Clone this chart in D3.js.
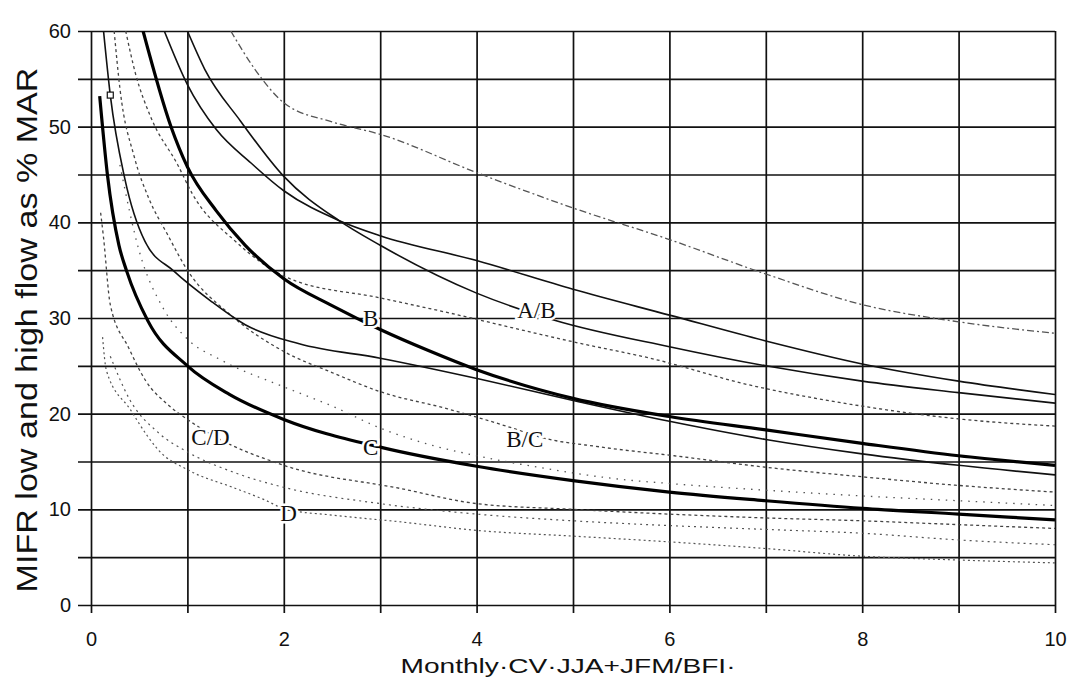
<!DOCTYPE html>
<html>
<head>
<meta charset="utf-8">
<script src="https://cdn.jsdelivr.net/npm/d3@7"></script>
<style>
  body { margin:0; background:#fff; }
  svg  { display:block; }
</style>
</head>
<body>
<svg id="chart" width="1067" height="685"></svg>
<script>
// ---- data ----
const xTicks = [0, 2, 4, 6, 8, 10];
const yTicks = [0, 10, 20, 30, 40, 50, 60];
const xGrid  = [0, 1, 2, 3, 4, 5, 6, 7, 8, 9, 10];
const yGrid  = [0, 5, 10, 15, 20, 25, 30, 35, 40, 45, 50, 55, 60];

// solid curves
const solidQ = [[0.76,60],[1,54.4],[1.3,49.7],[1.66,46.2],[2,43.3],[2.57,40.2],[3,38.6],[4,36],[5,33],[6,30.3],[7,27.6],[8,25.2],[9,23.4],[10,22]];
const solidAB = [[1.0,60],[1.18,56],[1.55,50.6],[2,44.8],[2.57,40.2],[3,37.6],[4,32.6],[4.8,29.8],[6,27],[7,25],[8,23.4],[9,22.2],[10,21.1]];
const thickB = [[0.54,60],[0.83,50],[1,45.8],[1.3,41.2],[1.6,37.6],[2,34.1],[2.5,31.3],[3,28.8],[3.5,26.6],[4,24.6],[5,21.6],[6,19.7],[7,18.3],[8,16.9],[9,15.6],[10,14.6]];
const solidBC = [[0.13,60],[0.2,53.3],[0.35,44.6],[0.56,38],[0.86,34.9],[1.24,31.8],[1.6,29.3],[2.16,27.3],[3,25.8],[4.04,23.6],[5.08,21.2],[6,19.2],[7,17.3],[8,15.8],[9,14.6],[10,13.6]];
const thickC = [[0.09,53.2],[0.17,45],[0.29,37.6],[0.37,34.9],[0.59,29.7],[1,25],[1.44,22],[2,19.4],[3,16.5],[4,14.5],[5,13],[6,11.8],[7,10.9],[8,10.1],[9,9.5],[10,8.9]];

// dotted curves
const dotA  = [[1.45,60],[1.7,56],[2,52.5],[2.5,50.5],[3,49.2],[4,45.2],[5,41.5],[6,38.2],[7,34.6],[8,31.4],[9,29.6],[10,28.4]];
const dotAB = [[0.36,60],[0.46,55.6],[0.62,51],[0.9,46],[1.05,43],[1.5,38],[2.04,34.2],[3,32.1],[3.73,30.5],[4.53,28.6],[5.05,27.4],[5.8,25.8],[6.83,23],[7.87,21],[9.05,19.4],[10,18.7]];
const dotBC = [[0.24,60],[0.3,54],[0.45,46.8],[0.6,42.5],[0.79,38.8],[1,35],[1.45,30.3],[2,26.5],[2.5,24.3],[3,22.3],[3.7,20.5],[4.4,18.4],[4.64,17.6],[5.3,16.5],[6.05,15.6],[7,14.4],[8,13.4],[9,12.5],[10,11.8]];
const dotC  = [[0.3,46],[0.5,37],[0.75,31],[1,27.8],[1.35,25.6],[2,22.8],[2.5,20.8],[3,18.5],[3.5,16.8],[4,15.6],[4.64,14.4],[5.44,13.2],[6,12.7],[7,12],[8,11.4],[9,10.9],[10,10.4]];
const dotCD = [[0.1,41],[0.13,38.4],[0.2,31.4],[0.39,26.9],[0.57,23.4],[0.79,21],[1,19.4],[1.25,17.8],[2,14.6],[3.2,12.2],[4,10.6],[5,10],[6,9.5],[7,9.1],[8,8.8],[9,8.4],[10,8.0]];
const dotD2 = [[0.2,26],[0.4,21.5],[0.7,18],[1,16],[1.5,13.8],[2,12.3],[3,10.6],[4,9.5],[5,8.8],[6,8.3],[7,7.9],[8,7.5],[9,6.8],[10,6.3]];
const dotD  = [[0.12,28],[0.16,24.5],[0.41,20.4],[0.59,17.6],[0.69,16.3],[1.03,14],[1.47,12.3],[1.8,11],[2.02,10],[2.5,9.4],[3.2,8.7],[4,7.8],[5,7.2],[6,6.6],[7,5.9],[8,5.1],[9,4.7],[10,4.4]];

const labelText = ["A/B", "B", "B/C", "C", "C/D", "D"];
const labelX    = [4.62, 2.9, 4.5, 2.9, 1.24, 2.05];
const labelY    = [30.8, 30.0, 17.3, 16.5, 17.5, 9.6];

// ---- drawing ----
const M = {left:91, right:1055, top:31, bottom:605};
const svg = d3.select("#chart");

const x = d3.scaleLinear().domain([0,10]).range([M.left, M.right]);
const y = d3.scaleLinear().domain([0,60]).range([M.bottom, M.top]);

svg.append("defs").append("clipPath").attr("id","plot")
  .append("rect")
  .attr("x", M.left).attr("y", M.top)
  .attr("width", M.right-M.left).attr("height", M.bottom-M.top);

// grid via axes (ticks stretched across the plot)
const yAx = svg.append("g")
  .attr("transform","translate("+(M.left-13)+",0)")
  .call(d3.axisLeft(y).tickValues(yGrid)
    .tickSize(-(M.right-M.left+13)).tickPadding(7)
    .tickFormat(d => yTicks.includes(d) ? d : ""));
const xAx = svg.append("g")
  .attr("transform","translate(0,"+(M.bottom+8)+")")
  .call(d3.axisBottom(x).tickValues(xGrid)
    .tickSize(-(M.bottom-M.top+8)).tickPadding(19)
    .tickFormat(d => xTicks.includes(d) ? d : ""));
[yAx, xAx].forEach(g => {
  g.select(".domain").remove();
  g.selectAll(".tick line").attr("stroke","#111").attr("stroke-width",1.7);
  g.selectAll(".tick text")
    .attr("fill","#111")
    .style("font-family","'Liberation Sans', Arial, sans-serif")
    .style("font-size","20px");
});

const line = d3.line()
  .x(d => x(d[0])).y(d => y(d[1]))
  .curve(d3.curveMonotoneX);

const series = [
  {pts:dotA,  color:"#555", w:1.3, dash:"7,3,2,3"},
  {pts:dotAB, color:"#444", w:1.3, dash:"3,3"},
  {pts:dotBC, color:"#444", w:1.3, dash:"3,3"},
  {pts:dotC,  color:"#555", w:1.3, dash:"1.5,6"},
  {pts:dotCD, color:"#444", w:1.3, dash:"3,3"},
  {pts:dotD2, color:"#555", w:1.2, dash:"2,4"},
  {pts:dotD,  color:"#555", w:1.2, dash:"2,3"},
  {pts:solidQ,  color:"#111", w:1.6, dash:null},
  {pts:solidAB, color:"#111", w:1.6, dash:null},
  {pts:solidBC, color:"#111", w:1.6, dash:null},
  {pts:thickB,  color:"#000", w:3.2, dash:null},
  {pts:thickC,  color:"#000", w:3.2, dash:null}
];

const gCurves = svg.append("g").attr("clip-path","url(#plot)");
series.forEach(s => {
  gCurves.append("path")
    .attr("d", line(s.pts))
    .attr("fill","none")
    .attr("stroke", s.color)
    .attr("stroke-width", s.w)
    .attr("stroke-dasharray", s.dash);
});

// small square marker on the B/C low-flow curve
svg.append("rect")
  .attr("x", x(solidBC[1][0]) - 3).attr("y", y(solidBC[1][1]) - 3)
  .attr("width", 6).attr("height", 6)
  .attr("fill","#fff").attr("stroke","#111").attr("stroke-width",1.2);

// curve labels (serif, knocked out of the lines)
svg.append("g").selectAll("text").data(labelText).enter().append("text")
  .attr("x", (d,i) => x(labelX[i]))
  .attr("y", (d,i) => y(labelY[i]))
  .attr("text-anchor","middle")
  .attr("dominant-baseline","central")
  .style("font-family","'Liberation Serif', 'Times New Roman', serif")
  .style("font-size","23px")
  .attr("fill","#111")
  .attr("stroke","#fff").attr("stroke-width",5)
  .attr("paint-order","stroke")
  .text(d => d);

// axis titles
svg.append("text")
  .attr("transform","translate(37,"+((M.top+M.bottom)/2+12)+") rotate(-90)")
  .attr("text-anchor","middle")
  .attr("textLength", 525).attr("lengthAdjust","spacingAndGlyphs")
  .style("font-family","'Liberation Sans', Arial, sans-serif")
  .style("font-size","29px")
  .attr("fill","#111")
  .text("MIFR low and high flow as % MAR");

svg.append("text")
  .attr("x", 568).attr("y", 673)
  .attr("text-anchor","middle")
  .attr("textLength", 335).attr("lengthAdjust","spacingAndGlyphs")
  .style("font-family","'Liberation Sans', Arial, sans-serif")
  .style("font-size","21px")
  .attr("fill","#111")
  .text("Monthly·CV·JJA+JFM/BFI·");
</script>
</body>
</html>
